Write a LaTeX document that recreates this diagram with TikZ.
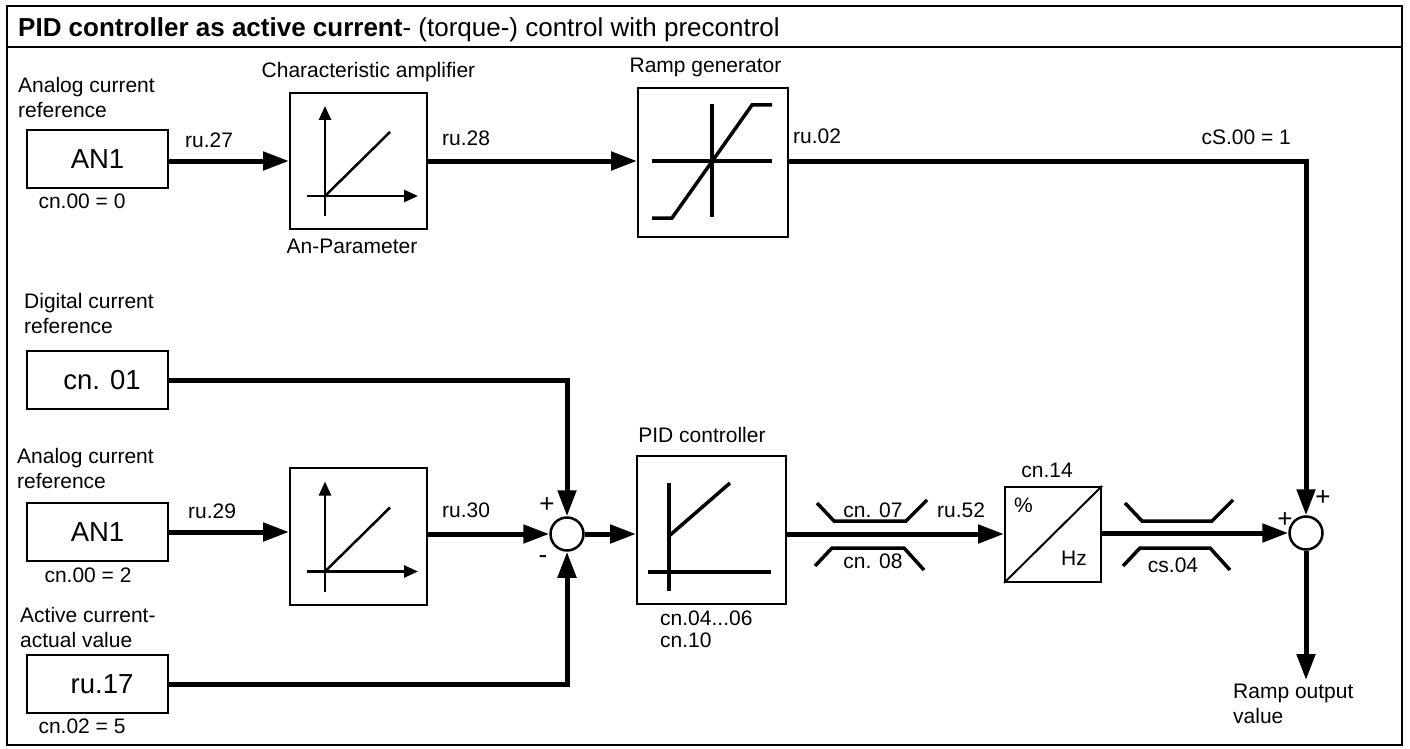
\documentclass[tikz,border=0pt]{standalone}
\usepackage{fontspec}
\setmainfont{Liberation Sans}
\usetikzlibrary{arrows.meta}

\begin{document}
\begin{tikzpicture}[
  x=1pt, y=-1pt,
  font=\fontsize{21}{25}\selectfont,
  lbl/.style={inner sep=0pt, align=left},
  sgn/.style={inner sep=0pt, font=\fontsize{26}{26}\selectfont},
  src/.style={draw, line width=2pt, minimum width=141pt, minimum height=58pt,
              inner sep=0pt, font=\fontsize{27.5}{30}\selectfont},
  blk/.style={draw, line width=2pt, inner sep=0pt},
  sumnode/.style={circle, draw, line width=2.5pt, minimum size=33pt, inner sep=0pt},
  wire/.style={line width=5pt},
  arr/.style={wire, -{Triangle[length=26pt, width=18pt]}},
  glyph/.style={line width=3.5pt},
  axarr/.style={line width=2.5pt, -{Triangle[length=14pt, width=12pt]}}
]
\useasboundingbox (0,0) rectangle (1410,749);
% frame and title
\draw[line width=2.2pt] (7,6) rectangle (1402,745);
\draw[line width=2.2pt] (7,47) -- (1402,47);
\node[lbl, anchor=base west, font=\fontsize{26}{30}\selectfont] (title) at (18,37)
  {\textbf{PID controller as active current}- (torque-) control with precontrol};

% blocks
\node[src] (an1a) at (97.5,159) {AN1\hspace{18pt}};
\node[src] (cn01) at (97,380) {\hspace{10pt}cn. 01};
\node[src] (an1b) at (97.5,532) {AN1\hspace{18pt}};
\node[src] (ru17) at (97,684) {\hspace{10pt}ru.17};
\node[blk, minimum width=137pt, minimum height=136pt] (char1) at (358.5,161) {};
\node[blk, minimum width=137pt, minimum height=137pt] (char2) at (358.5,536.5) {};
\node[blk, minimum width=150pt, minimum height=149pt] (ramp) at (713,162.5) {};
\node[blk, minimum width=149pt, minimum height=148pt] (pid) at (711.5,530) {};
\node[blk, minimum width=96pt, minimum height=95pt] (conv) at (1053,534.5) {};
\node[sumnode] (sum1) at (567,534) {};
\node[sumnode] (sum2) at (1306,533) {};
\coordinate (out) at (1306,680);

% characteristic curves
\foreach \b in {char1,char2} {
  \draw[axarr] ([shift={(-33.5,55)}]\b.center) -- ([shift={(-33.5,-55)}]\b.center);
  \draw[axarr] ([shift={(-51.5,35)}]\b.center) -- ([shift={(59.5,35)}]\b.center);
  \draw[line width=2.5pt] ([shift={(-33.5,35)}]\b.center) -- ([shift={(31.5,-29)}]\b.center);
}
\draw[glyph] ([shift={(-61,-1.5)}]ramp.center) -- ++(120,0);
\draw[glyph] ([shift={(-1,-58.5)}]ramp.center) -- ++(0,113);
\draw[glyph] ([shift={(-61,55.5)}]ramp.center) -- ++(20,0) -- ++(80,-113) -- ++(20,0);
\draw[glyph] ([shift={(-42.5,-47)}]pid.center) -- ++(0,108);
\draw[glyph] ([shift={(-63.5,42)}]pid.center) -- ++(123,0);
\draw[glyph] ([shift={(-42.5,6)}]pid.center) -- ++(61,-53);
\draw[line width=2pt] (conv.south west) -- (conv.north east);

% limiters
\foreach \s/\w in {0/72, 308/70} {
  \draw[glyph] (817+\s,503) -- ++(17,18) -- ++(\w,0) -- ++(21,-21);
  \draw[glyph] (815+\s,566) -- ++(17,-18) -- ++(\w,0) -- ++(20,22);
}

% signal paths
\draw[arr] (an1a.east |- char1.west) -- (char1.west);
\draw[arr] (char1.east) -- (char1.east -| ramp.west);
\draw[arr] (ramp.east |- char1.east) -| (sum2.north);
\draw[arr] (cn01.east) -| (sum1.north);
\draw[arr] (ru17.east) -| (sum1.south);
\draw[arr] (an1b.east) -- (an1b.east -| char2.west);
\draw[arr] (char2.east |- sum1.west) -- (sum1.west);
\draw[arr] (sum1.east) -- (sum1.east -| pid.west);
\draw[arr] (pid.east |- sum1.east) -- (conv.west |- sum1.east);
\draw[arr] (conv.east |- sum2.west) -- (sum2.west);
\draw[arr] (sum2.south) -- (out);

% labels
\node[lbl, anchor=north west] (anref1) at (18,77) {Analog current\\reference};
\node[lbl, anchor=base] (cn00a) at (82,208) {cn.00 = 0};
\node[lbl, anchor=base west] (ru27) at (185,147) {ru.27};
\node[lbl, anchor=base] (chartxt) at (368.5,78) {Characteristic amplifier};
\node[lbl, anchor=base] (anpar) at (352,253) {An-Parameter};
\node[lbl, anchor=base west] (ru28) at (442,146) {ru.28};
\node[lbl, anchor=base] (ramptxt) at (705.5,73) {Ramp generator};
\node[lbl, anchor=base west] (ru02) at (793,143) {ru.02};
\node[lbl, anchor=base east] (cs00) at (1291,144) {cS.00 = 1};
\node[lbl, anchor=north west] (digref) at (24,293) {Digital current\\reference};
\node[lbl, anchor=north west] (anref2) at (17,448) {Analog current\\reference};
\node[lbl, anchor=base] (cn00b) at (88,582) {cn.00 = 2};
\node[lbl, anchor=base west] (ru29) at (188,518) {ru.29};
\node[lbl, anchor=base west] (ru30) at (442,517) {ru.30};
\node[sgn] (plus1) at (547,505) {+};
\node[sgn] (minus1) at (543,560) {-};
\node[lbl, anchor=north west] (actval) at (20,607) {Active current-\\actual value};
\node[lbl, anchor=base] (cn02) at (82,733) {cn.02 = 5};
\node[lbl, anchor=base] (pidtxt) at (702,442) {PID controller};
\node[lbl, anchor=north west, font=\fontsize{21}{22}\selectfont] (pidpar) at (660,611) {cn.04...06\\cn.10};
\node[lbl, anchor=base] (cn07) at (873,517) {cn. 07};
\node[lbl, anchor=base] (cn08) at (873,568) {cn. 08};
\node[lbl, anchor=base west] (ru52) at (937,517) {ru.52};
\node[lbl, anchor=base] (cn14) at (1047,477) {cn.14};
\node[lbl, anchor=base] (pct) at (1023.5,512) {\%};
\node[lbl, anchor=base] (hz) at (1074,565) {Hz};
\node[lbl, anchor=base] (cs04) at (1173,572) {cs.04};
\node[sgn] (plus2) at (1323,498) {+};
\node[sgn] (plus3) at (1285,520) {+};
\node[lbl, anchor=north west] (rampout) at (1233,684) {Ramp output\\value};
\end{tikzpicture}
\end{document}
